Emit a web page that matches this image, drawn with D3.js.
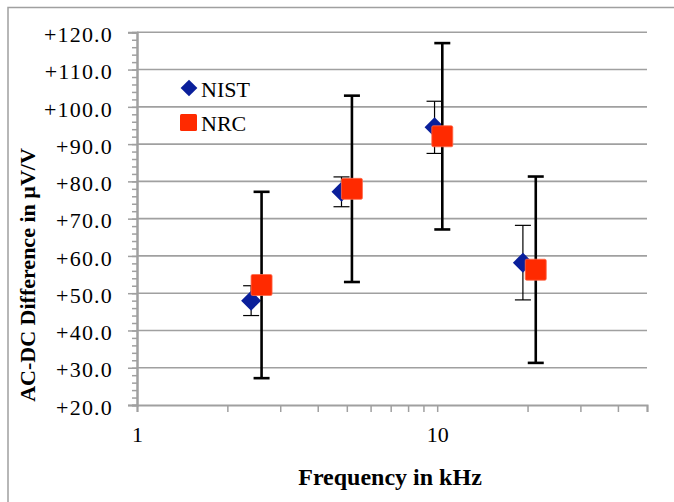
<!DOCTYPE html>
<html lang="en">
<head>
<meta charset="utf-8">
<title>AC-DC Difference</title>
<script src="https://cdn.jsdelivr.net/npm/d3@7"></script>
<style>
  body { margin: 0; background: #fff; }
  text { font-family: "Liberation Serif", serif; fill: #000; }
</style>
</head>
<body>
<script>
// chart data
var nistFreq = [2.4, 4.8, 9.8, 19.3];
var nistVal  = [48, 77.2, 94.5, 58.2];
var nistErr  = [4, 4, 7, 10];

var nrcFreq = [2.6, 5.2, 10.4, 21.3];
var nrcVal  = [52.2, 78, 92.1, 56.3];
var nrcErr  = [25, 25, 25, 25];

var yTicks = [20, 30, 40, 50, 60, 70, 80, 90, 100, 110, 120];
var xTicks = [1, 10];

var w = 674, h = 502;
var grey = "#a0a0a0";

var svg = d3.select("body").append("svg")
    .attr("width", w)
    .attr("height", h);

// outer chart border (runs off right and bottom)
svg.append("path")
    .attr("d", "M8," + h + " V7.5 H" + w)
    .attr("fill", "none")
    .attr("stroke", grey)
    .attr("stroke-width", 1.5);

var xScale = d3.scaleLog().domain([1, 50]).range([137, 647]);
var yScale = d3.scaleLinear().domain([20, 120]).range([405, 32.3]);

// gridlines
svg.append("g")
  .selectAll("line")
  .data(yTicks.slice(1))
  .enter().append("line")
    .attr("x1", xScale(1)).attr("x2", xScale(50))
    .attr("y1", function(d) { return yScale(d); })
    .attr("y2", function(d) { return yScale(d); })
    .attr("stroke", grey)
    .attr("stroke-width", 1.6);

// minor y ticks every 2
var yMinor = d3.range(20, 121, 2);
var yAxisMinor = d3.axisLeft(yScale).tickValues(yMinor).tickSize(5).tickFormat("");
var gYm = svg.append("g").attr("transform", "translate(" + xScale(1) + ",0)").call(yAxisMinor);

var yAxis = d3.axisLeft(yScale)
    .tickValues(yTicks)
    .tickSize(9)
    .tickPadding(15)
    .tickFormat(function(d) { return "+" + d.toFixed(1); });
var gY = svg.append("g").attr("transform", "translate(" + xScale(1) + ",0)").call(yAxis);

// x axis with log minor ticks
var xMinor = [1, 2, 3, 4, 5, 6, 7, 8, 9, 10, 20, 30, 40, 50];
var xAxis = d3.axisBottom(xScale)
    .tickValues(xMinor)
    .tickSize(7)
    .tickPadding(12)
    .tickFormat(function(d) { return xTicks.indexOf(d) >= 0 ? d : ""; });
var gX = svg.append("g").attr("transform", "translate(0," + yScale(20) + ")").call(xAxis);

[gYm, gY, gX].forEach(function(g) {
  g.select(".domain").attr("stroke", grey).attr("stroke-width", 2);
  g.selectAll(".tick line").attr("stroke", grey).attr("stroke-width", 1.5);
  g.selectAll("text").attr("font-family", "Liberation Serif").attr("font-size", 22).attr("fill", "#000");
});
gY.selectAll("text").attr("letter-spacing", 1.2).attr("dy", "0.42em");
gX.selectAll("text").attr("dy", "0.8em");

// error bars
function errorBars(freq, val, err, width, capW) {
  var g = svg.append("g").attr("stroke", "#000").attr("stroke-width", width);
  freq.forEach(function(f, i) {
    var x = xScale(f);
    var y1 = yScale(val[i] + err[i]);
    var y2 = yScale(val[i] - err[i]);
    g.append("line").attr("x1", x).attr("x2", x).attr("y1", y1).attr("y2", y2);
    g.append("line").attr("x1", x - capW / 2).attr("x2", x + capW / 2).attr("y1", y1).attr("y2", y1);
    g.append("line").attr("x1", x - capW / 2).attr("x2", x + capW / 2).attr("y1", y2).attr("y2", y2);
  });
}

var diamond = d3.symbol().type(d3.symbolSquare).size(200);

errorBars(nistFreq, nistVal, nistErr, 1.2, 16);
svg.append("g").selectAll("path")
  .data(nistFreq)
  .enter().append("path")
    .attr("d", diamond)
    .attr("transform", function(d, i) {
      return "translate(" + xScale(d) + "," + yScale(nistVal[i]) + ") rotate(45)";
    })
    .attr("fill", "#0a1f9b");

errorBars(nrcFreq, nrcVal, nrcErr, 2.6, 16);
svg.append("g").selectAll("rect")
  .data(nrcFreq)
  .enter().append("rect")
    .attr("x", function(d) { return xScale(d) - 10.5; })
    .attr("y", function(d, i) { return yScale(nrcVal[i]) - 10.5; })
    .attr("width", 21).attr("height", 21)
    .attr("rx", 1.5)
    .attr("fill", "#ff2a00")
    .attr("stroke", "#ff6a4a")
    .attr("stroke-width", 0.8);

// legend
var legend = svg.append("g");
legend.append("path")
  .attr("d", d3.symbol().type(d3.symbolSquare).size(140))
  .attr("transform", "translate(189,88) rotate(45)")
  .attr("fill", "#0a1f9b");
legend.append("text").attr("x", 201).attr("y", 97).attr("font-size", 22).text("NIST");
legend.append("rect")
  .attr("x", 180).attr("y", 114).attr("width", 17).attr("height", 17).attr("rx", 1.5)
  .attr("fill", "#ff2a00");
legend.append("text").attr("x", 201).attr("y", 131).attr("font-size", 22).text("NRC");

// axis titles
svg.append("text")
  .attr("transform", "translate(35,275) rotate(-90)")
  .attr("text-anchor", "middle")
  .attr("font-weight", "bold")
  .attr("font-size", 22)
  .text("AC-DC Difference in µV/V");

svg.append("text")
  .attr("x", 390).attr("y", 485)
  .attr("text-anchor", "middle")
  .attr("font-weight", "bold")
  .attr("font-size", 24)
  .text("Frequency in kHz");
</script>
</body>
</html>
